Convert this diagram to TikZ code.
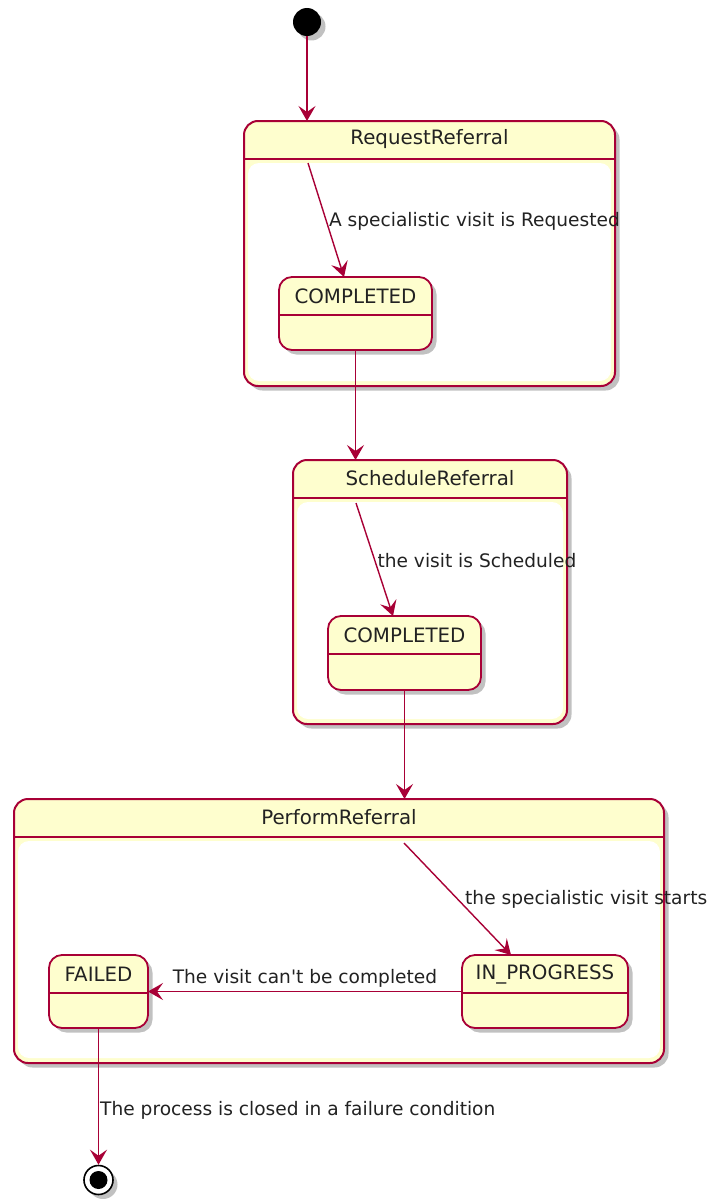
\documentclass[tikz,border=0pt]{standalone}
\usepackage{fontspec}
\newfontfamily\uifont{DejaVu Sans}
\usetikzlibrary{arrows.meta,shadows,calc}
\definecolor{pborder}{HTML}{A80036}
\definecolor{pfill}{HTML}{FEFECE}
\definecolor{ptext}{HTML}{222222}
\begin{document}
\begin{tikzpicture}[x=1pt,y=-1pt,
  shadowed/.style={drop shadow={shadow xshift=4.5pt,shadow yshift=-4.5pt,opacity=0.3,fill=black!80}},
  comp/.style={draw=pborder,line width=2pt,fill=pfill,rounded corners=14pt,shadowed,anchor=north west,inner sep=0,outer sep=0},
  simple/.style={draw=pborder,line width=1.8pt,fill=pfill,rounded corners=13pt,shadowed,anchor=north west,inner sep=0,outer sep=0},
  hline/.style={draw=pborder,line width=1.6pt},
  inner/.style={fill=white,rounded corners=11pt},
  title/.style={text=ptext,font=\uifont\fontsize{19.8}{22}\selectfont,inner sep=0},
  lbl/.style={text=ptext,font=\uifont\fontsize{18.6}{21}\selectfont,inner sep=1pt},
  trans/.style={draw=pborder,line width=1.4pt,-{Stealth[length=15pt,width=17pt,inset=6pt]}},
]
\fill[white] (0,0) rectangle (709,1199);
\useasboundingbox (0,0) rectangle (709,1199);

% composite states
\node[comp, minimum width=371, minimum height=265] (rr) at (244,121) {};
\draw[hline] ($(rr.north west)+(0,38)$) -- ($(rr.north east)+(0,38)$);
\fill[inner] ($(rr.north west)+(4,42)$) rectangle ($(rr.south east)+(-4,-5)$);
\node[title] at ($(rr.north)+(0,18.5)$) {RequestReferral};

\node[comp, minimum width=274, minimum height=264] (sr) at (293,460) {};
\draw[hline] ($(sr.north west)+(0,38)$) -- ($(sr.north east)+(0,38)$);
\fill[inner] ($(sr.north west)+(4,42)$) rectangle ($(sr.south east)+(-4,-5)$);
\node[title] at ($(sr.north)+(0,18.5)$) {ScheduleReferral};

\node[comp, minimum width=650, minimum height=264] (pr) at (14,799) {};
\draw[hline] ($(pr.north west)+(0,38)$) -- ($(pr.north east)+(0,38)$);
\fill[inner] ($(pr.north west)+(4,42)$) rectangle ($(pr.south east)+(-4,-5)$);
\node[title] at ($(pr.north)+(0,18.5)$) {PerformReferral};

% simple states
\node[simple, minimum width=153, minimum height=73] (c1) at (279,277) {};
\draw[hline] ($(c1.north west)+(0,38)$) -- ($(c1.north east)+(0,38)$);
\node[title] at ($(c1.north)+(0,19.5)$) {COMPLETED};

\node[simple, minimum width=153, minimum height=74] (c2) at (328,616) {};
\draw[hline] ($(c2.north west)+(0,38)$) -- ($(c2.north east)+(0,38)$);
\node[title] at ($(c2.north)+(0,19.5)$) {COMPLETED};

\node[simple, minimum width=166, minimum height=73] (ip) at (462,955) {};
\draw[hline] ($(ip.north west)+(0,38)$) -- ($(ip.north east)+(0,38)$);
\node[title] at ($(ip.north)+(0,19.5)$) {IN\_PROGRESS};

\node[simple, minimum width=99, minimum height=73] (fl) at (49,955) {};
\draw[hline] ($(fl.north west)+(0,38)$) -- ($(fl.north east)+(0,38)$);
\node[title] at ($(fl.north)+(0,19.5)$) {FAILED};

% start / end
\node[circle,fill=black,minimum size=28,inner sep=0,shadowed] (start) at (307,22) {};
\node[circle,draw=black,line width=1.6pt,fill=white,minimum size=29,inner sep=0,shadowed] (end) at (98.5,1180) {};
\node[circle,fill=black,minimum size=18,inner sep=0] (enddot) at (end) {};

% entry points inside composites
\coordinate (rrin) at (308,163);
\coordinate (srin) at (356,503);
\coordinate (prin) at (404,843);

% transitions
\draw[trans] (start) -- (rr.north -| start);
\draw[trans] (rrin) -- node[lbl,pos=0.51,anchor=west,xshift=1pt] {A specialistic visit is Requested} ($(c1.north west)+(65,0)$);
\draw[trans] (c1.south) -- (sr.north -| c1.south);
\draw[trans] (srin) -- node[lbl,pos=0.51,anchor=west,xshift=1pt] {the visit is Scheduled} ($(c2.north west)+(65,0)$);
\draw[trans] (c2.south) -- (pr.north -| c2.south);
\draw[trans] (prin) -- node[lbl,pos=0.5,anchor=west,xshift=6pt] {the specialistic visit starts} ($(ip.north west)+(49,0)$);
\draw[trans] (ip.west) -- node[lbl,midway,above=2pt] {The visit can't be completed} (fl.east);
\draw[trans] (fl.south) -- node[lbl,pos=0.6,anchor=west,xshift=0pt] {The process is closed in a failure condition} (end.north);
\end{tikzpicture}
\end{document}
